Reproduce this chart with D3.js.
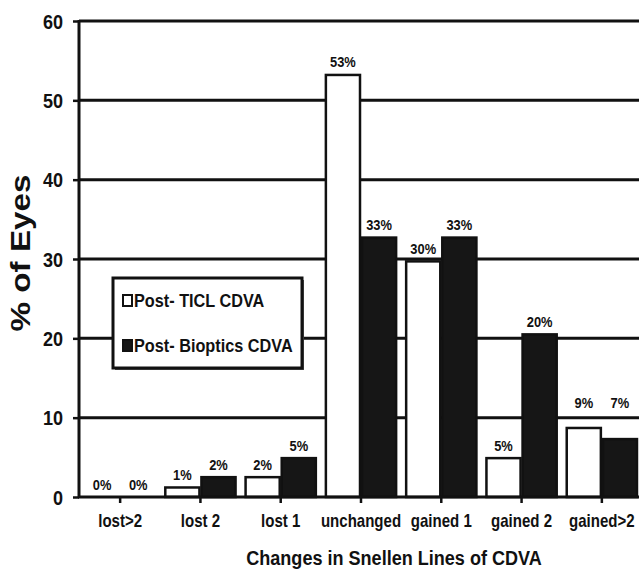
<!DOCTYPE html>
<html>
<head>
<meta charset="utf-8">
<script src="https://cdn.jsdelivr.net/npm/d3@7"></script>
<style>
  html, body { margin: 0; padding: 0; background: #fff; }
  svg { display: block; }
  text { font-family: "Liberation Sans", Arial, Helvetica, sans-serif; font-weight: bold; fill: #111; }
</style>
</head>
<body>
<script>
// ---- data ----
const categories = ["lost>2", "lost 2", "lost 1", "unchanged", "gained 1", "gained 2", "gained>2"];
const seriesNames = ["Post- TICL CDVA", "Post- Bioptics CDVA"];
const ticlValues = [0, 1.2, 2.5, 53.2, 29.7, 4.9, 8.7];
const biopticsValues = [0, 2.5, 4.9, 32.7, 32.7, 20.5, 7.3];
const ticlLabels = ["0%", "1%", "2%", "53%", "30%", "5%", "9%"];
const biopticsLabels = ["0%", "2%", "5%", "33%", "33%", "20%", "7%"];
const yTicks = [0, 10, 20, 30, 40, 50, 60];
const xTitle = "Changes in Snellen Lines of CDVA";
const yTitle = "% of Eyes";

const W = 639, H = 570;
const svg = d3.select("body").append("svg").attr("width", W).attr("height", H);

const x = d3.scaleBand().domain(categories).range([80, 642]).paddingInner(0.1).paddingOuter(0.05);
const xs = d3.scaleBand().domain(seriesNames).range([0, x.bandwidth()]);
const y = d3.scaleLinear().domain([0, 60]).range([497, 21]);

const SX = 0.86;
function label(g, str, px, py, size, anchor, sx) {
  return g.append("text")
    .attr("transform", `translate(${px},${py}) scale(${sx},1)`)
    .attr("text-anchor", anchor)
    .style("font-size", size + "px")
    .text(str);
}

// gridlines
const grid = svg.append("g");
grid.selectAll("line").data(yTicks.filter(d => d > 0)).join("line")
  .attr("x1", 79).attr("x2", W)
  .attr("y1", d => y(d)).attr("y2", d => y(d))
  .attr("stroke", "#111").attr("stroke-width", 3);

// y axis
const yAxis = svg.append("g").attr("transform", "translate(79,0)")
  .call(d3.axisLeft(y).tickValues(yTicks).tickSize(6).tickFormat(""));
yAxis.select(".domain").attr("stroke", "#111").attr("stroke-width", 3).attr("d", `M0,${y(60)-1}V${y(0)}`);
yAxis.selectAll(".tick line").attr("stroke", "#111").attr("stroke-width", 2.5);
const yLab = svg.append("g");
yTicks.forEach(t => label(yLab, String(t), 63, y(t) + 7.5, 21, "end", SX));

// bars
const series = [
  { name: seriesNames[0], values: ticlValues, labels: ticlLabels, fill: "#fff" },
  { name: seriesNames[1], values: biopticsValues, labels: biopticsLabels, fill: "#161616" }
];
const bars = svg.append("g");
series.forEach(s => {
  bars.append("g").selectAll("rect").data(categories).join("rect")
    .attr("x", c => x(c) + xs(s.name) + 1)
    .attr("width", xs.bandwidth() - 2)
    .attr("y", (c, i) => y(s.values[i]))
    .attr("height", (c, i) => y(0) - y(s.values[i]))
    .attr("fill", s.fill)
    .attr("stroke", "#111")
    .attr("stroke-width", (c, i) => s.values[i] > 0 ? 2.5 : 0);
});

// x axis
const xAxis = svg.append("g").attr("transform", `translate(0,${y(0)})`)
  .call(d3.axisBottom(x).tickSize(6).tickFormat(""));
xAxis.select(".domain").attr("stroke", "#111").attr("stroke-width", 3).attr("d", `M78,0H${W}`);
xAxis.selectAll(".tick line").attr("stroke", "#111").attr("stroke-width", 2.5);
const xLab = svg.append("g");
categories.forEach(c => label(xLab, c, x(c) + x.bandwidth() / 2, 527, 17.5, "middle", SX));

// value labels (lifted above a gridline when they would overlap it)
const vl = svg.append("g");
const gridYs = yTicks.filter(d => d > 0).map(d => y(d));
categories.forEach((c, i) => {
  let base = series.map(s => y(s.values[i]) - 7.5);
  const hit = gridYs.find(g => base.some(b => g > b - 12 && g < b + 1));
  if (hit !== undefined) base = base.map(() => hit - 10);
  series.forEach((s, k) => {
    label(vl, s.labels[i], x(c) + xs(s.name) + xs.bandwidth() / 2, base[k], 15, "middle", SX);
  });
});

// axis titles
label(svg, xTitle, 394, 565, 21, "middle", SX);
svg.append("text")
  .attr("transform", "translate(30,253) rotate(-90)")
  .attr("text-anchor", "middle")
  .attr("textLength", 157).attr("lengthAdjust", "spacingAndGlyphs")
  .style("font-size", "28px")
  .text(yTitle);

// legend
const lg = svg.append("g");
lg.append("rect").attr("x", 115).attr("y", 280).attr("width", 189).attr("height", 90).attr("fill", "#555");
lg.append("rect").attr("x", 113).attr("y", 278).attr("width", 189).attr("height", 90)
  .attr("fill", "#fff").attr("stroke", "#111").attr("stroke-width", 3);
series.forEach((s, i) => {
  const yy = 307 + i * 45;
  lg.append("rect").attr("x", 123).attr("y", yy - 12).attr("width", 9).attr("height", 11)
    .attr("fill", s.fill).attr("stroke", "#111").attr("stroke-width", 2);
  label(lg, s.name, 134, yy, 17.5, "start", 0.93);
});
</script>
</body>
</html>
